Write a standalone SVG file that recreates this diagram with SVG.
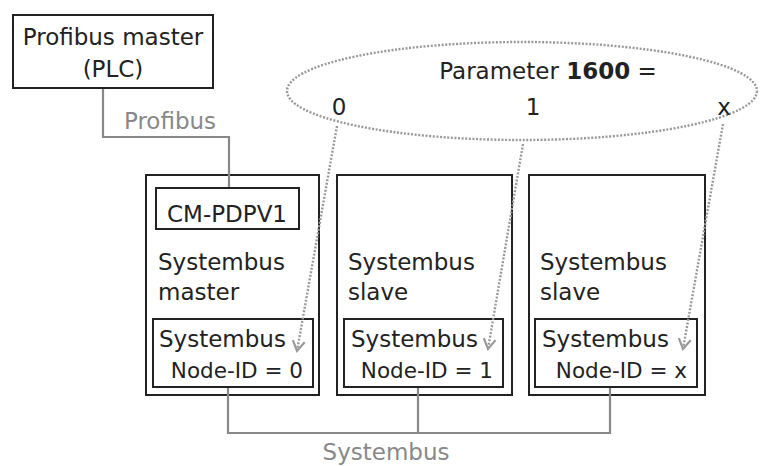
<svg xmlns="http://www.w3.org/2000/svg" width="760" height="466" viewBox="0 0 760 466">
<defs>
<style>
.box{fill:#fff;stroke:#222;stroke-width:2}
.t{font-family:"DejaVu Sans",Verdana,sans-serif;font-size:23px;fill:#222}
.s{font-size:21.5px}
.g{fill:#888}
.wire{fill:none;stroke:#888;stroke-width:2.2}
.dot{fill:none;stroke:#999;stroke-width:2.4;stroke-dasharray:2 1.6}
</style>
<marker id="v" markerUnits="userSpaceOnUse" markerWidth="20" markerHeight="20" viewBox="-12 -10 14 20" refX="0" refY="0" orient="auto">
<path d="M-10,-6 L0,0 L-10,6" fill="none" stroke="#999" stroke-width="2.2"/>
</marker>
</defs>
<rect width="760" height="466" fill="#fff"/>
<g id="plc">
<rect class="box" x="13" y="15" width="200" height="73"/>
<text class="t" x="113" y="45" text-anchor="middle">Profibus master</text>
<text class="t" x="113" y="77" text-anchor="middle">(PLC)</text>
</g>
<g id="param">
<ellipse class="dot" cx="522" cy="91" rx="235" ry="49"/>
<text class="t" x="548" y="79" text-anchor="middle">Parameter <tspan font-weight="bold">1600</tspan> =</text>
<text class="t" x="339" y="115" text-anchor="middle">0</text>
<text class="t" x="533" y="115" text-anchor="middle">1</text>
<text class="t" x="724" y="115" text-anchor="middle">x</text>
</g>
<g id="node0">
<rect class="box" x="146" y="175" width="173" height="220"/>
<rect class="box" x="156" y="188" width="143" height="41"/>
<text class="t" x="227" y="222" text-anchor="middle">CM-PDPV1</text>
<text class="t" x="158" y="270">Systembus</text>
<text class="t" x="158" y="300">master</text>
<rect class="box" x="153" y="319" width="160" height="68"/>
<text class="t" x="159" y="347">Systembus</text>
<text class="t s" x="303" y="378" text-anchor="end">Node-ID = 0</text>
</g>
<g id="node1">
<rect class="box" x="337" y="175" width="175" height="220"/>
<text class="t" x="348" y="270">Systembus</text>
<text class="t" x="348" y="300">slave</text>
<rect class="box" x="344" y="319" width="159" height="68"/>
<text class="t" x="351" y="347">Systembus</text>
<text class="t s" x="493" y="378" text-anchor="end">Node-ID = 1</text>
</g>
<g id="nodex">
<rect class="box" x="529" y="175" width="176" height="220"/>
<text class="t" x="540" y="270">Systembus</text>
<text class="t" x="540" y="300">slave</text>
<rect class="box" x="535" y="319" width="162" height="68"/>
<text class="t" x="542" y="347">Systembus</text>
<text class="t s" x="687" y="378" text-anchor="end">Node-ID = x</text>
</g>
<g id="connectors">
<polyline class="wire" points="103,89 103,137 229,137 229,187"/>
<polyline class="wire" points="228,388 228,433 610,433 610,388"/>
<line class="wire" x1="418" y1="388" x2="418" y2="433"/>
<text class="t g" x="170" y="129" text-anchor="middle">Profibus</text>
<text class="t g" x="386" y="460" text-anchor="middle">Systembus</text>
<line class="dot" x1="337" y1="126" x2="297" y2="351" marker-end="url(#v)"/>
<line class="dot" x1="523" y1="144" x2="488" y2="349" marker-end="url(#v)"/>
<line class="dot" x1="723" y1="124" x2="683" y2="349" marker-end="url(#v)"/>
</g>
</svg>
